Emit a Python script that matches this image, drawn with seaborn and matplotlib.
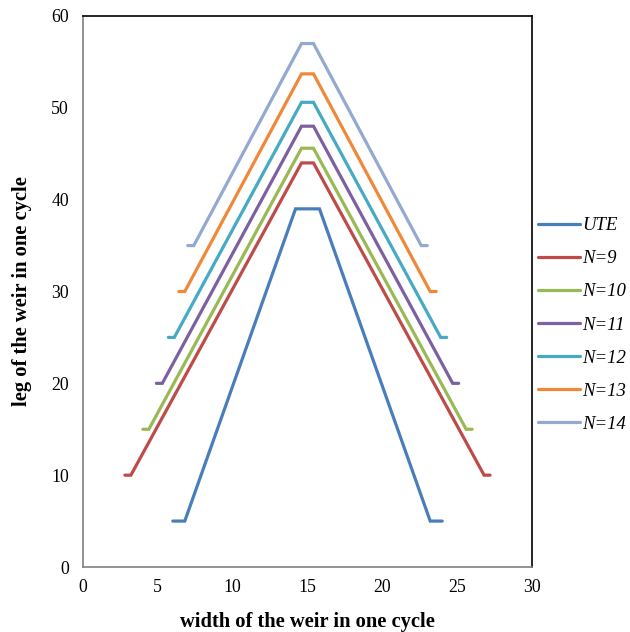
import matplotlib
matplotlib.use("Agg")
import matplotlib.pyplot as plt
import seaborn as sns
import pandas as pd

series = ["UTE", "N=9", "N=10", "N=11", "N=12", "N=13", "N=14"]
colors = ["#4A7EBB", "#BE4B48", "#98B954", "#7D60A0", "#46AAC5", "#F0883A", "#93A9D0"]

x_ute = [6.0, 6.8, 14.2, 15.8, 23.2, 24.0]
y_ute = [5, 5, 39, 39, 5, 5]
x_n9 = [2.8, 3.2, 14.6, 15.4, 26.8, 27.2]
y_n9 = [10, 10, 44, 44, 10, 10]
x_n10 = [4.0, 4.4, 14.6, 15.4, 25.6, 26.0]
y_n10 = [15, 15, 45.6, 45.6, 15, 15]
x_n11 = [4.9, 5.3, 14.6, 15.4, 24.7, 25.1]
y_n11 = [20, 20, 48, 48, 20, 20]
x_n12 = [5.7, 6.1, 14.6, 15.4, 23.9, 24.3]
y_n12 = [25, 25, 50.6, 50.6, 25, 25]
x_n13 = [6.4, 6.8, 14.6, 15.4, 23.2, 23.6]
y_n13 = [30, 30, 53.7, 53.7, 30, 30]
x_n14 = [7.0, 7.4, 14.6, 15.4, 22.6, 23.0]
y_n14 = [35, 35, 57, 57, 35, 35]

xs = [x_ute, x_n9, x_n10, x_n11, x_n12, x_n13, x_n14]
ys = [y_ute, y_n9, y_n10, y_n11, y_n12, y_n13, y_n14]

rows = []
for name, xv, yv in zip(series, xs, ys):
    for i, (a, b) in enumerate(zip(xv, yv)):
        rows.append({"series": name, "x": a, "y": b, "order": i})
df = pd.DataFrame(rows)

sns.set_style("white")
plt.rcParams["font.family"] = ["Liberation Serif", "DejaVu Serif"]
plt.rcParams["text.color"] = "black"
plt.rcParams["axes.labelcolor"] = "black"
plt.rcParams["xtick.labelcolor"] = "black"
plt.rcParams["ytick.labelcolor"] = "black"

fig = plt.figure(figsize=(6.3, 6.32), dpi=100)
ax = fig.add_axes([83 / 630, 1 - 567 / 632, (532 - 83) / 630, (567 - 16) / 632])

sns.lineplot(data=df, x="x", y="y", hue="series", hue_order=series,
             palette=colors, sort=False, estimator=None, units="series",
             linewidth=2.3, ax=ax, legend=True)
for ln in ax.get_lines():
    ln.set_solid_capstyle("round")
    ln.set_solid_joinstyle("miter")

ax.set_xlim(0, 30)
ax.set_ylim(0, 60)
ax.set_xticks(range(0, 31, 5))
ax.set_yticks(range(0, 61, 10))
ax.tick_params(axis="both", labelsize=12.8, length=4, width=1, color="#808080",
               labelcolor="black", direction="out", pad=6)
ax.tick_params(axis="x", pad=5)
for s in ["left", "bottom"]:
    ax.spines[s].set_color("#808080")
    ax.spines[s].set_linewidth(1.2)
for s in ["top", "right"]:
    ax.spines[s].set_color("black")
    ax.spines[s].set_linewidth(1.2)

ax.set_xlabel("width of the weir in one cycle", fontsize=14.8, fontweight="bold", color="black")
ax.set_ylabel("leg of the weir in one cycle", fontsize=14.8, fontweight="bold", color="black")
ax.xaxis.set_label_coords(0.5, -(622 - 567) / 551)
ax.yaxis.set_label_coords(-(83 - 22) / 449, 0.5)
ax.xaxis.label.set_va("center")
ax.yaxis.label.set_va("center")

leg = ax.legend(loc="center left", bbox_to_anchor=(538 / 630, 1 - 325 / 632),
                bbox_transform=fig.transFigure, frameon=False,
                prop={"style": "italic", "size": 13.5, "family": "Liberation Serif"},
                handlelength=2.24, handletextpad=0.1, labelspacing=0.85,
                borderaxespad=0, borderpad=0)
for t in leg.get_texts():
    t.set_color("black")
for h in leg.get_lines():
    h.set_linewidth(2.3)

fig.savefig("out.png", dpi=100)
